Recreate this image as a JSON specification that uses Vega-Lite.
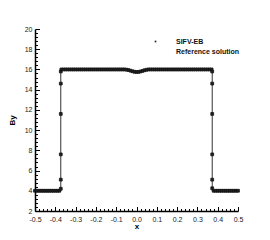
{
  "$schema": "https://vega.github.io/schema/vega-lite/v6.json",
  "width": 203,
  "height": 182,
  "autosize": "none",
  "padding": {"left": 35, "top": 29, "right": 32, "bottom": 29},
  "background": "white",
  "config": {
    "view": {"stroke": null},
    "font": "Liberation Sans",
    "axis": {
      "domainColor": "#000",
      "domainWidth": 1.5,
      "tickColor": "#000",
      "tickWidth": 1,
      "labelFont": "Liberation Sans",
      "labelFontSize": 7,
      "labelColor": "#222",
      "labelOverlap": false,
      "labelBound": false,
      "labelFlush": false,
      "titleFont": "Liberation Sans",
      "titleFontSize": 8,
      "titleFontWeight": "bold",
      "titleColor": "#000",
      "grid": false
    }
  },
  "datasets": {
    "pts": [
      {"x": -0.50, "by": 4, "series": "SIFV-EB"},
      {"x": -0.49, "by": 4, "series": "SIFV-EB"},
      {"x": -0.48, "by": 4, "series": "SIFV-EB"},
      {"x": -0.47, "by": 4, "series": "SIFV-EB"},
      {"x": -0.46, "by": 4, "series": "SIFV-EB"},
      {"x": -0.45, "by": 4, "series": "SIFV-EB"},
      {"x": -0.44, "by": 4, "series": "SIFV-EB"},
      {"x": -0.43, "by": 4, "series": "SIFV-EB"},
      {"x": -0.42, "by": 4, "series": "SIFV-EB"},
      {"x": -0.41, "by": 4, "series": "SIFV-EB"},
      {"x": -0.40, "by": 4, "series": "SIFV-EB"},
      {"x": -0.39, "by": 4, "series": "SIFV-EB"},
      {"x": -0.38, "by": 4, "series": "SIFV-EB"},
      {"x": -0.373, "by": 4.2, "series": "SIFV-EB"},
      {"x": -0.373, "by": 5.1, "series": "SIFV-EB"},
      {"x": -0.373, "by": 7.6, "series": "SIFV-EB"},
      {"x": -0.373, "by": 11.6, "series": "SIFV-EB"},
      {"x": -0.373, "by": 14.6, "series": "SIFV-EB"},
      {"x": -0.373, "by": 15.8, "series": "SIFV-EB"},
      {"x": -0.37, "by": 16, "series": "SIFV-EB"},
      {"x": -0.36, "by": 16, "series": "SIFV-EB"},
      {"x": -0.35, "by": 16, "series": "SIFV-EB"},
      {"x": -0.34, "by": 16, "series": "SIFV-EB"},
      {"x": -0.33, "by": 16, "series": "SIFV-EB"},
      {"x": -0.32, "by": 16, "series": "SIFV-EB"},
      {"x": -0.31, "by": 16, "series": "SIFV-EB"},
      {"x": -0.30, "by": 16, "series": "SIFV-EB"},
      {"x": -0.29, "by": 16, "series": "SIFV-EB"},
      {"x": -0.28, "by": 16, "series": "SIFV-EB"},
      {"x": -0.27, "by": 16, "series": "SIFV-EB"},
      {"x": -0.26, "by": 16, "series": "SIFV-EB"},
      {"x": -0.25, "by": 16, "series": "SIFV-EB"},
      {"x": -0.24, "by": 16, "series": "SIFV-EB"},
      {"x": -0.23, "by": 16, "series": "SIFV-EB"},
      {"x": -0.22, "by": 16, "series": "SIFV-EB"},
      {"x": -0.21, "by": 16, "series": "SIFV-EB"},
      {"x": -0.20, "by": 16, "series": "SIFV-EB"},
      {"x": -0.19, "by": 16, "series": "SIFV-EB"},
      {"x": -0.18, "by": 16, "series": "SIFV-EB"},
      {"x": -0.17, "by": 16, "series": "SIFV-EB"},
      {"x": -0.16, "by": 16, "series": "SIFV-EB"},
      {"x": -0.15, "by": 16, "series": "SIFV-EB"},
      {"x": -0.14, "by": 16, "series": "SIFV-EB"},
      {"x": -0.13, "by": 16, "series": "SIFV-EB"},
      {"x": -0.12, "by": 16, "series": "SIFV-EB"},
      {"x": -0.11, "by": 16, "series": "SIFV-EB"},
      {"x": -0.10, "by": 16, "series": "SIFV-EB"},
      {"x": -0.09, "by": 16, "series": "SIFV-EB"},
      {"x": -0.08, "by": 16, "series": "SIFV-EB"},
      {"x": -0.07, "by": 16, "series": "SIFV-EB"},
      {"x": -0.06, "by": 16, "series": "SIFV-EB"},
      {"x": -0.05, "by": 15.98, "series": "SIFV-EB"},
      {"x": -0.04, "by": 15.94, "series": "SIFV-EB"},
      {"x": -0.03, "by": 15.88, "series": "SIFV-EB"},
      {"x": -0.02, "by": 15.82, "series": "SIFV-EB"},
      {"x": -0.01, "by": 15.77, "series": "SIFV-EB"},
      {"x": 0.00, "by": 15.75, "series": "SIFV-EB"},
      {"x": 0.01, "by": 15.76, "series": "SIFV-EB"},
      {"x": 0.02, "by": 15.8, "series": "SIFV-EB"},
      {"x": 0.03, "by": 15.86, "series": "SIFV-EB"},
      {"x": 0.04, "by": 15.92, "series": "SIFV-EB"},
      {"x": 0.05, "by": 15.97, "series": "SIFV-EB"},
      {"x": 0.06, "by": 16, "series": "SIFV-EB"},
      {"x": 0.07, "by": 16, "series": "SIFV-EB"},
      {"x": 0.08, "by": 16, "series": "SIFV-EB"},
      {"x": 0.09, "by": 16, "series": "SIFV-EB"},
      {"x": 0.10, "by": 16, "series": "SIFV-EB"},
      {"x": 0.11, "by": 16, "series": "SIFV-EB"},
      {"x": 0.12, "by": 16, "series": "SIFV-EB"},
      {"x": 0.13, "by": 16, "series": "SIFV-EB"},
      {"x": 0.14, "by": 16, "series": "SIFV-EB"},
      {"x": 0.15, "by": 16, "series": "SIFV-EB"},
      {"x": 0.16, "by": 16, "series": "SIFV-EB"},
      {"x": 0.17, "by": 16, "series": "SIFV-EB"},
      {"x": 0.18, "by": 16, "series": "SIFV-EB"},
      {"x": 0.19, "by": 16, "series": "SIFV-EB"},
      {"x": 0.20, "by": 16, "series": "SIFV-EB"},
      {"x": 0.21, "by": 16, "series": "SIFV-EB"},
      {"x": 0.22, "by": 16, "series": "SIFV-EB"},
      {"x": 0.23, "by": 16, "series": "SIFV-EB"},
      {"x": 0.24, "by": 16, "series": "SIFV-EB"},
      {"x": 0.25, "by": 16, "series": "SIFV-EB"},
      {"x": 0.26, "by": 16, "series": "SIFV-EB"},
      {"x": 0.27, "by": 16, "series": "SIFV-EB"},
      {"x": 0.28, "by": 16, "series": "SIFV-EB"},
      {"x": 0.29, "by": 16, "series": "SIFV-EB"},
      {"x": 0.30, "by": 16, "series": "SIFV-EB"},
      {"x": 0.31, "by": 16, "series": "SIFV-EB"},
      {"x": 0.32, "by": 16, "series": "SIFV-EB"},
      {"x": 0.33, "by": 16, "series": "SIFV-EB"},
      {"x": 0.34, "by": 16, "series": "SIFV-EB"},
      {"x": 0.35, "by": 16, "series": "SIFV-EB"},
      {"x": 0.36, "by": 16, "series": "SIFV-EB"},
      {"x": 0.37, "by": 16, "series": "SIFV-EB"},
      {"x": 0.373, "by": 15.8, "series": "SIFV-EB"},
      {"x": 0.373, "by": 14.6, "series": "SIFV-EB"},
      {"x": 0.373, "by": 11.6, "series": "SIFV-EB"},
      {"x": 0.373, "by": 7.6, "series": "SIFV-EB"},
      {"x": 0.373, "by": 5.1, "series": "SIFV-EB"},
      {"x": 0.373, "by": 4.25, "series": "SIFV-EB"},
      {"x": 0.38, "by": 4, "series": "SIFV-EB"},
      {"x": 0.39, "by": 4, "series": "SIFV-EB"},
      {"x": 0.40, "by": 4, "series": "SIFV-EB"},
      {"x": 0.41, "by": 4, "series": "SIFV-EB"},
      {"x": 0.42, "by": 4, "series": "SIFV-EB"},
      {"x": 0.43, "by": 4, "series": "SIFV-EB"},
      {"x": 0.44, "by": 4, "series": "SIFV-EB"},
      {"x": 0.45, "by": 4, "series": "SIFV-EB"},
      {"x": 0.46, "by": 4, "series": "SIFV-EB"},
      {"x": 0.47, "by": 4, "series": "SIFV-EB"},
      {"x": 0.48, "by": 4, "series": "SIFV-EB"},
      {"x": 0.49, "by": 4, "series": "SIFV-EB"},
      {"x": 0.50, "by": 4, "series": "SIFV-EB"}
    ],
    "ref": [
      {"x": -0.5, "by": 4},
      {"x": -0.373, "by": 4},
      {"x": -0.373, "by": 16},
      {"x": -0.06, "by": 16},
      {"x": -0.04, "by": 15.94},
      {"x": -0.02, "by": 15.82},
      {"x": 0.0, "by": 15.75},
      {"x": 0.02, "by": 15.8},
      {"x": 0.04, "by": 15.92},
      {"x": 0.06, "by": 16},
      {"x": 0.373, "by": 16},
      {"x": 0.373, "by": 4},
      {"x": 0.5, "by": 4}
    ]
  },
  "resolve": {"axis": {"x": "independent", "y": "independent"}},
  "layer": [
    {
      "data": {"name": "ref"},
      "mark": {"type": "line", "opacity": 0},
      "encoding": {
        "x": {"field": "x", "type": "quantitative", "scale": {"domain": [-0.5, 0.5], "nice": false, "zero": false},
          "axis": {"orient": "bottom", "values": [-0.48,-0.46,-0.44,-0.42,-0.38,-0.36,-0.34,-0.32,-0.28,-0.26,-0.24,-0.22,-0.18,-0.16,-0.14,-0.12,-0.08,-0.06,-0.04,-0.02,0.02,0.04,0.06,0.08,0.12,0.14,0.16,0.18,0.22,0.24,0.26,0.28,0.32,0.34,0.36,0.38,0.42,0.44,0.46,0.48], "labels": false, "domain": false, "tickSize": -2.5, "title": null}},
        "y": {"field": "by", "type": "quantitative", "scale": {"domain": [2, 20], "nice": false, "zero": false},
          "axis": {"orient": "left", "values": [2.4,2.8,3.2,3.6,4.4,4.8,5.2,5.6,6.4,6.8,7.2,7.6,8.4,8.8,9.2,9.6,10.4,10.8,11.2,11.6,12.4,12.8,13.2,13.6,14.4,14.8,15.2,15.6,16.4,16.8,17.2,17.6,18.4,18.8,19.2,19.6], "labels": false, "domain": false, "tickSize": -2.5, "title": null}},
        "order": {"value": null}
      }
    },
    {
      "data": {"name": "ref"},
      "mark": {"type": "line", "color": "#333", "strokeWidth": 1},
      "encoding": {
        "x": {"field": "x", "type": "quantitative", "scale": {"domain": [-0.5, 0.5], "nice": false, "zero": false},
          "axis": {"orient": "bottom", "values": [-0.5,-0.4,-0.3,-0.2,-0.1,0,0.1,0.2,0.3,0.4,0.5], "tickSize": -4.5, "labelPadding": 8.5, "labelExpr": "replace(datum.label, '\u2212', '-')", "title": "x", "titlePadding": 0}},
        "y": {"field": "by", "type": "quantitative", "scale": {"domain": [2, 20], "nice": false, "zero": false},
          "axis": {"orient": "left", "values": [2,4,6,8,10,12,14,16,18,20], "tickSize": -4.5, "labelPadding": 7.5, "title": "By", "titlePadding": 8}},
        "order": {"value": null}
      }
    },
    {
      "data": {"name": "pts"},
      "mark": {"type": "point", "filled": true, "color": "#222", "stroke": "#111", "strokeWidth": 0.8, "size": 100, "opacity": 1},
      "encoding": {
        "x": {"field": "x", "type": "quantitative", "scale": {"domain": [-0.5, 0.5], "nice": false, "zero": false}, "axis": null},
        "y": {"field": "by", "type": "quantitative", "scale": {"domain": [2, 20], "nice": false, "zero": false}, "axis": null},
        "shape": {"field": "series", "type": "nominal",
          "scale": {"domain": ["SIFV-EB", "Reference solution"], "range": ["M-0.28,-0.28H0.28V0.28H-0.28Z", "M-4.7,0H4.7"]},
          "legend": {"orient": "none", "legendX": 117, "legendY": 9, "title": null, "symbolSize": 36, "labelOffset": 17, "rowPadding": 2,
            "labelFont": "Liberation Sans", "labelFontSize": 7, "labelFontWeight": "bold", "labelColor": "#111",
            "symbolStrokeColor": "#555", "symbolFillColor": "#999", "symbolStrokeWidth": 1}}
      }
    }
  ]
}
